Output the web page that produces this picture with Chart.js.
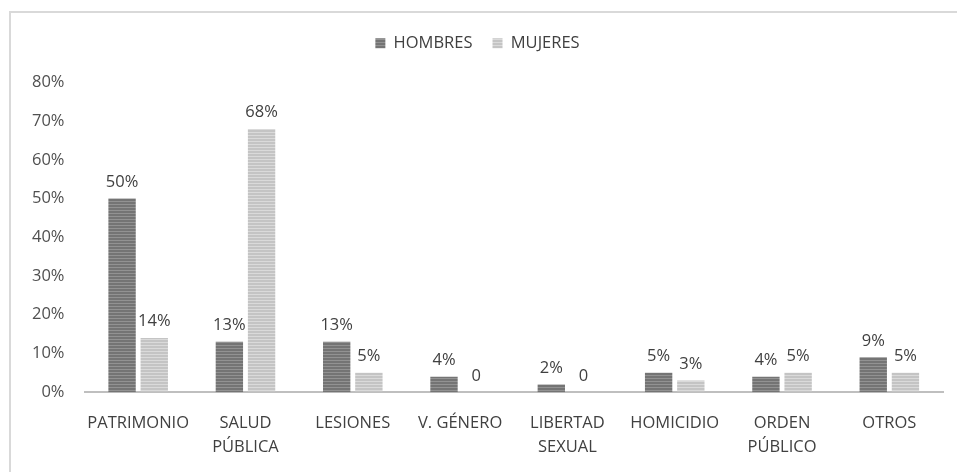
<!DOCTYPE html>
<html>
<head>
<meta charset="utf-8">
<script src="https://cdn.jsdelivr.net/npm/chart.js@4.4.1/dist/chart.umd.min.js"></script>
<style>
  html, body { margin: 0; padding: 0; background: #fff; }
  #wrap {
    position: absolute; left: 9px; top: 11px;
    width: 948px; height: 461px;
    border-top: 2px solid #d9d9d9; border-left: 2px solid #d9d9d9;
    box-sizing: border-box;
  }
</style>
</head>
<body>
<div id="wrap"><canvas id="delitosChart"></canvas></div>
<script>
const categorias = ['PATRIMONIO', ['SALUD', 'PÚBLICA'], 'LESIONES', 'V. GÉNERO',
    ['LIBERTAD', 'SEXUAL'], 'HOMICIDIO', ['ORDEN', 'PÚBLICO'], 'OTROS'];
const hombres = [50, 13, 13, 4, 2, 5, 4, 9];
const mujeres = [14, 68, 5, 0, 0, 3, 5, 5];
const ticksY = [0, 10, 20, 30, 40, 50, 60, 70, 80];

const fuente = '"Open Sans", sans-serif';

function stripes(c1, c2) {
    const c = document.createElement('canvas');
    c.width = 4; c.height = 3;
    const g = c.getContext('2d');
    g.fillStyle = c1; g.fillRect(0, 0, 4, 3);
    g.fillStyle = c2; g.fillRect(0, 2, 4, 1);
    return g.createPattern(c, 'repeat');
}

// etiquetas de valor encima de cada barra
const etiquetas = {
    id: 'etiquetas',
    afterDatasetsDraw(chart) {
        const ctx = chart.ctx;
        ctx.save();
        ctx.font = '16.5px ' + fuente;
        ctx.fillStyle = '#404040';
        ctx.textAlign = 'center';
        ctx.textBaseline = 'bottom';
        chart.data.datasets.forEach((ds, i) => {
            chart.getDatasetMeta(i).data.forEach((bar, j) => {
                const v = ds.data[j];
                ctx.fillText(v === 0 ? '0' : v + '%', bar.x, bar.y - 8);
            });
        });
        ctx.restore();
    }
};

// espacio extra bajo la leyenda
const margenLeyenda = {
    id: 'margenLeyenda',
    beforeInit(chart) {
        const fit = chart.legend.fit;
        chart.legend.fit = function () {
            fit.bind(chart.legend)();
            this.height += 21;
        };
    }
};

const canvas = document.getElementById('delitosChart');
canvas.width = 946; canvas.height = 459;

new Chart(canvas.getContext('2d'), {
    type: 'bar',
    data: {
        labels: categorias,
        datasets: [{
            label: 'HOMBRES',
            data: hombres,
            backgroundColor: stripes('#747474', '#929292'),
            categoryPercentage: 0.6, barPercentage: 0.85
        }, {
            label: 'MUJERES',
            data: mujeres,
            backgroundColor: stripes('#c4c4c4', '#dadada'),
            categoryPercentage: 0.6, barPercentage: 0.85
        }]
    },
    options: {
        responsive: false,
        animation: false,
        layout: { padding: { left: 1, right: 14, top: 2, bottom: -6 } },
        plugins: {
            legend: {
                display: true,
                labels: {
                    boxWidth: 10, boxHeight: 10, padding: 20,
                    color: '#404040',
                    font: { size: 16.5, family: fuente }
                }
            },
            tooltip: { enabled: false }
        },
        scales: {
            x: {
                grid: { display: false, drawTicks: false },
                border: { color: '#bfbfbf', width: 2 },
                ticks: {
                    color: '#404040', padding: 19, maxRotation: 0, autoSkip: false,
                    font: { size: 16.5, family: fuente, lineHeight: 1.45 }
                }
            },
            y: {
                min: 0, max: 80,
                afterBuildTicks: axis => { axis.ticks = ticksY.map(v => ({ value: v })); },
                grid: { display: false, drawTicks: false },
                border: { display: false },
                ticks: {
                    color: '#505050', padding: 20,
                    callback: v => v + '%',
                    font: { size: 16.5, family: fuente }
                }
            }
        }
    },
    plugins: [etiquetas, margenLeyenda]
});
</script>
</body>
</html>
